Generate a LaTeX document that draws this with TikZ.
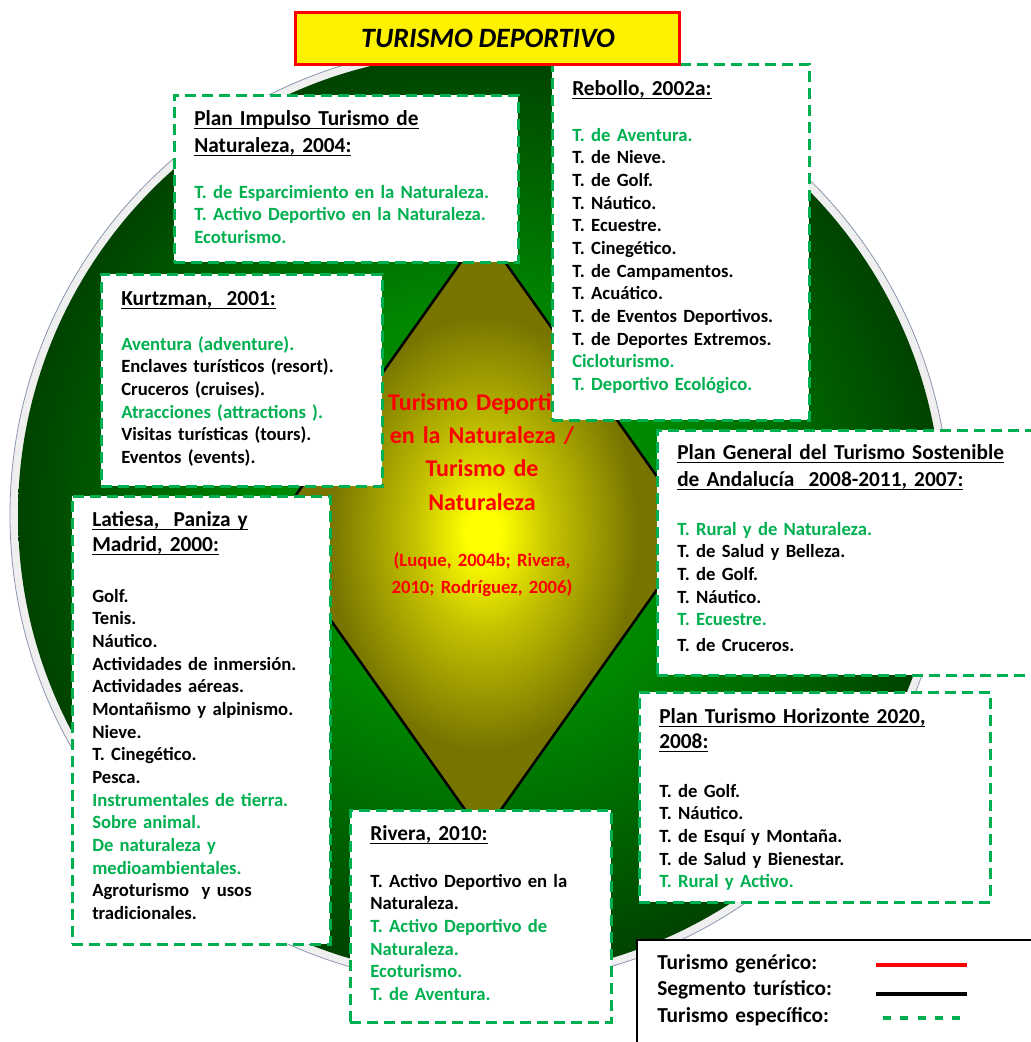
\documentclass[tikz,border=0pt]{standalone}
\usepackage{fontspec}
\setmainfont{Carlito}[WordSpace=0.9]
\definecolor{gtext}{HTML}{00B050}
\definecolor{gA}{HTML}{008800}
\definecolor{gB}{HTML}{004300}
\definecolor{yA}{HTML}{FFFF00}
\definecolor{yM}{HTML}{C4C200}
\definecolor{yB}{HTML}{777500}
\definecolor{rimfill}{HTML}{EFEFEF}
\definecolor{rimline}{HTML}{8A97AD}
\definecolor{titlered}{HTML}{FF0000}
\pgfdeclareradialshading{greenball}{\pgfpoint{0bp}{0bp}}{color(0bp)=(gA); color(11bp)=(gA); color(25bp)=(gB); color(50bp)=(gB)}
\pgfdeclareradialshading{yellowdiamond}{\pgfpoint{0bp}{0bp}}{color(0bp)=(yA); color(2bp)=(yA); color(8bp)=(yM); color(18bp)=(yB); color(50bp)=(yB)}
\newsavebox\ulbox
\newcommand\myul[1]{\leavevmode\sbox\ulbox{#1}\rlap{\rule[-3.3pt]{\wd\ulbox}{1.3pt}}\usebox\ulbox}
\newcommand\greenit[1]{\textcolor{gtext}{#1}}
\tikzset{
  pxsize/.style 2 args={minimum width=#1*0.75pt, minimum height=#2*0.75pt},
  srcbox/.style={rectangle, draw=gtext, line width=2pt, dash pattern=on 8.25pt off 4.5pt, fill=white, inner sep=0pt, anchor=north west},
  ttl/.style={anchor=base west, inner sep=0pt, text width=330pt, align=left, font=\fontsize{16}{20.25}\selectfont\bfseries},
  itm/.style={anchor=base west, inner sep=0pt, text width=330pt, align=left, font=\fontsize{14}{17}\selectfont\bfseries},
  legtxt/.style={anchor=base west, inner sep=0pt, text width=200pt, align=left, font=\fontsize{16}{19.9}\selectfont\bfseries},
  legline/.style={line width=2.4pt},
}
\begin{document}
\begin{tikzpicture}[x=0.75pt,y=-0.75pt]
\useasboundingbox (0,0) rectangle (1031,1042);
\clip (0,0) rectangle (1031,1042);
\fill[white] (0,0) rectangle (1031,1042);
% circle background
\filldraw[fill=rimfill, draw=rimline, line width=0.6pt] (480,515) circle[radius=470];
\shade[shading=greenball] (480,515) circle[radius=462];
% diamond
\shade[shading=yellowdiamond] (483,231) -- (697,533) -- (483,835) -- (269,533) -- cycle;
\draw[line width=1.9pt, line join=miter] (483,231) -- (697,533) -- (483,835) -- (269,533) -- cycle;
% centre text
\node[anchor=base, inner sep=0pt, text width=250pt, align=center, text=titlered, font=\fontsize{18}{25.1}\selectfont\bfseries] (centre) at (482,410)
 {Turismo Deportivo\\en la Naturaleza /\\Turismo de\\Naturaleza};
\node[anchor=base, inner sep=0pt, text width=250pt, align=center, text=titlered, font=\fontsize{14}{20.25}\selectfont\bfseries] (cites) at (482,566)
 {(Luque, 2004b; Rivera,\\2010; Rodríguez, 2006)};
% Plan Impulso
\node[srcbox, pxsize={344}{167}] (impulso) at (173,94) {};
\node[ttl] (impulsoT) at (194,125) {\myul{Plan Impulso Turismo de}\\\myul{Naturaleza, 2004:}};
\node[itm, text=gtext] (impulsoI) at (194,198) {T. de Esparcimiento en la Naturaleza.\\T. Activo Deportivo en la Naturaleza.\\Ecoturismo.};
% Rebollo
\node[srcbox, pxsize={257}{356}] (rebollo) at (551,63) {};
\node[ttl] (rebolloT) at (572,95) {\myul{Rebollo, 2002a:}};
\node[itm] (rebolloI) at (572,141) {\greenit{T. de Aventura.}\\T. de Nieve.\\T. de Golf.\\T. Náutico.\\T. Ecuestre.\\T. Cinegético.\\T. de Campamentos.\\T. Acuático.\\T. de Eventos Deportivos.\\T. de Deportes Extremos.\\\greenit{Cicloturismo.}\\\greenit{T. Deportivo Ecológico.}};
% Kurtzman
\node[srcbox, pxsize={281}{212}] (kurtz) at (100,273) {};
\node[ttl] (kurtzT) at (121,305) {\myul{Kurtzman,~ 2001:}};
\node[itm] (kurtzI) at (121,350) {\greenit{Aventura (adventure).}\\Enclaves turísticos (resort).\\Cruceros (cruises).\\\greenit{Atracciones (attractions ).}\\Visitas turísticas (tours).\\Eventos (events).};
% Latiesa
\node[srcbox, pxsize={258}{448}] (latiesa) at (71,495) {};
\node[ttl, font=\fontsize{16}{18.75}\selectfont\bfseries] (latiesaT) at (92,526) {\myul{Latiesa,~ Paniza y}\\\myul{Madrid, 2000:}};
\node[itm] (latiesaI) at (92,602) {Golf.\\Tenis.\\Náutico.\\Actividades de inmersión.\\Actividades aéreas.\\Montañismo y alpinismo.\\Nieve.\\T. Cinegético.\\Pesca.\\\greenit{Instrumentales de tierra.}\\\greenit{Sobre animal.}\\\greenit{De naturaleza y}\\\greenit{medioambientales.}\\Agroturismo~ y usos\\tradicionales.};
% Plan General
\node[srcbox, pxsize={390}{245}] (general) at (656,429) {};
\node[ttl] (generalT) at (677,459) {\myul{Plan General del Turismo Sostenible}\\\myul{de Andalucía~ 2008-2011, 2007:}};
\node[itm] (generalI) at (677,535) {\greenit{T. Rural y de Naturaleza.}\\T. de Salud y Belleza.\\T. de Golf.\\T. Náutico.\\\greenit{T. Ecuestre.}\\[2.4pt]T. de Cruceros.};
% Horizonte
\node[srcbox, pxsize={351}{210}] (horiz) at (638,691) {};
\node[ttl, font=\fontsize{16}{18.75}\selectfont\bfseries] (horizT) at (659,723) {\myul{Plan Turismo Horizonte 2020,}\\\myul{2008:}};
\node[itm] (horizI) at (659,797) {T. de Golf.\\T. Náutico.\\T. de Esquí y Montaña.\\T. de Salud y Bienestar.\\\greenit{T. Rural y Activo.}};
% Rivera
\node[srcbox, pxsize={261}{212}] (rivera) at (349,809) {};
\node[ttl] (riveraT) at (370,840) {\myul{Rivera, 2010:}};
\node[itm] (riveraI) at (370,887) {T. Activo Deportivo en la\\Naturaleza.\\\greenit{T. Activo Deportivo de}\\\greenit{Naturaleza.}\\\greenit{Ecoturismo.}\\\greenit{T. de Aventura.}};
% title
\node[rectangle, draw=titlered, line width=2.3pt, fill=yellow, anchor=north west, inner sep=0pt, pxsize={384}{52}] (titlebox) at (294,11) {};
\node[inner sep=0pt, font=\fontsize{21}{25}\selectfont\bfseries\itshape] (titletext) at (488,38.5) {TURISMO DEPORTIVO};
% legend
\node[rectangle, draw=black, line width=1.5pt, fill=white, anchor=north west, inner sep=0pt, pxsize={410}{115}] (legend) at (636,939) {};
\node[legtxt] (legendT) at (657,969) {Turismo genérico:\\Segmento turístico:\\Turismo específico:};
\coordinate (redA) at (876,965);
\coordinate (redB) at (967,965);
\coordinate (blkA) at (876,994);
\coordinate (blkB) at (967,994);
\coordinate (grnA) at (883,1018);
\coordinate (grnB) at (967,1018);
\draw[legline, titlered] (redA) -- (redB);
\draw[legline, black] (blkA) -- (blkB);
\draw[legline, gtext, dash pattern=on 6pt off 7pt] (grnA) -- (grnB);
\end{tikzpicture}
\end{document}
